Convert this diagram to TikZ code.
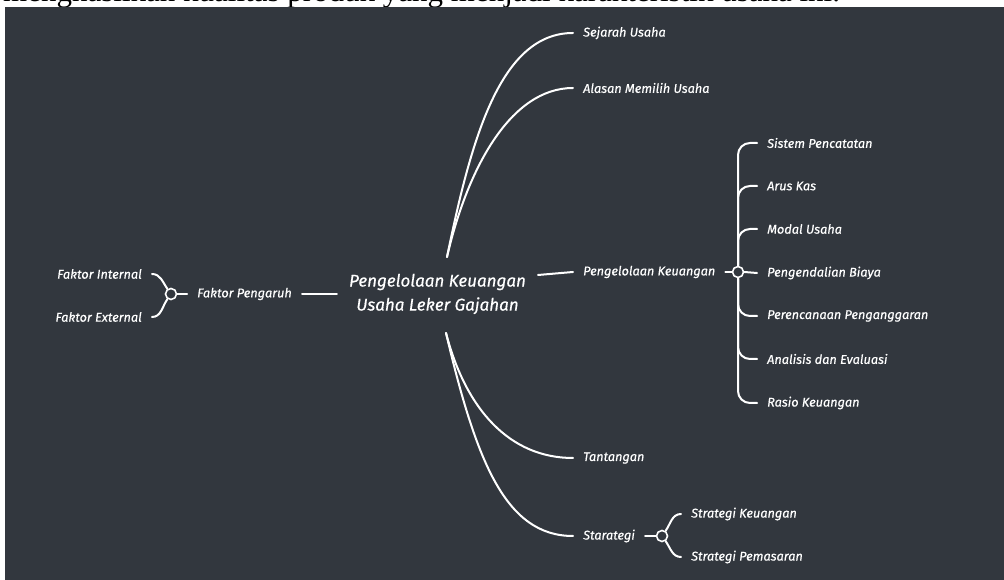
\documentclass[tikz,border=0pt]{standalone}
\usepackage{fontspec}
\setmainfont{Fira Sans}
\newfontfamily\mapfont{Fira Sans}[FakeBold=0.5]
\newfontfamily\pagefont{Liberation Serif}
\usetikzlibrary{calc}
\definecolor{board}{RGB}{50,55,62}
\tikzset{%
  central/.style = {font=\mapfont\fontsize{17}{24}\selectfont\itshape, align=center,%
                    text=white, minimum width=201pt, inner sep=0pt},%
  topic/.style   = {font=\mapfont\fontsize{12.7}{14}\selectfont\itshape, text=white,%
                    inner xsep=10pt, inner ysep=2pt},%
  hub/.style     = {circle, draw=white, line width=1.6pt, fill=board,%
                    inner sep=0pt, minimum size=11pt},%
  link/.style    = {draw=white, line width=2pt, line cap=round}%
}
\begin{document}
\begin{tikzpicture}[x=1pt,y=1pt]%
	\useasboundingbox (0,0) rectangle (1004,580);
	\fill[white] (0,0) rectangle (1004,580);
	\fill[board] (5,0) rectangle (1004,573);
	\begin{scope}
		\clip (0,573) rectangle (1004,580);
		\node[anchor=base west, inner sep=0pt, font=\pagefont\fontsize{31}{34}\selectfont] (pageline)
			at (3,578) {menghasilkan kualitas produk yang menjadi karakteristik usaha ini.};
	\end{scope}
	% central topic
	\node[central] (root) at (437.5,286) {Pengelolaan Keuangan\\Usaha Leker Gajahan};
	\coordinate (rtop) at (447,323);
	\coordinate (rbot) at (446,247);
	\coordinate (rright) at (538,305);
	% main topics
	\node[topic, anchor=west] (sejarah) at (573,547) {Sejarah Usaha};
	\node[topic, anchor=west] (alasan) at (573,492) {Alasan Memilih Usaha};
	\node[topic, anchor=west] (keuangan) at (573,308) {Pengelolaan Keuangan};
	\node[topic, anchor=west] (tantangan) at (573,122) {Tantangan};
	\node[topic, anchor=west] (strategi) at (573,44) {Starategi};
	\node[topic, anchor=east] (pengaruh) at (302,286) {Faktor Pengaruh};
	% left side
	\node[hub] (hubl) at (171,286) {};
	\node[topic, anchor=east] (internal) at (152,306) {Faktor Internal};
	\node[topic, anchor=east] (external) at (152,263) {Faktor External};
	% keuangan children
	\node[hub] (hubk) at (738,308) {};
	\node[topic, anchor=west] (sistem) at (757,437) {Sistem Pencatatan};
	\node[topic, anchor=west] (arus) at (757,394) {Arus Kas};
	\node[topic, anchor=west] (modal) at (757,351) {Modal Usaha};
	\node[topic, anchor=west] (biaya) at (757,307) {Pengendalian Biaya};
	\node[topic, anchor=west] (rencana) at (757,264) {Perencanaan Penganggaran};
	\node[topic, anchor=west] (analisis) at (757,221) {Analisis dan Evaluasi};
	\node[topic, anchor=west] (rasio) at (757,177) {Rasio Keuangan};
	% strategi children
	\node[hub] (hubs) at (662,44) {};
	\node[topic, anchor=west] (skeu) at (681,66) {Strategi Keuangan};
	\node[topic, anchor=west] (spem) at (681,23) {Strategi Pemasaran};
	% links from the centre
	\draw[link] (rtop) .. controls +(24,117) and +(-73,0) .. (sejarah.west);
	\draw[link] (rtop) .. controls +(20,87) and +(-63,0) .. (alasan.west);
	\draw[link] (rright) -- (keuangan.west);
	\draw[link] (rbot) .. controls +(20,-77) and +(-63,0) .. (tantangan.west);
	\draw[link] (rbot) .. controls +(30,-127) and +(-68,0) .. (strategi.west);
	\draw[link] (root.west) -- (pengaruh.east);
	% links to sub topics
	\draw[link] (pengaruh.west) -- (hubl.east);
	\draw[link] (hubl.125) to[out=125,in=0] (internal.east);
	\draw[link] (hubl.235) to[out=235,in=0] (external.east);
	\draw[link] (keuangan.east) -- (hubk.west);
	\draw[link] (hubk.east) -- (biaya.west);
	\foreach \n in {sistem,arus,modal}
		\draw[link, rounded corners=12pt] (hubk.north) |- (\n.west);
	\foreach \n in {rencana,analisis,rasio}
		\draw[link, rounded corners=12pt] (hubk.south) |- (\n.west);
	\draw[link] (strategi.east) -- (hubs.west);
	\draw[link] (hubs.55) to[out=55,in=180] (skeu.west);
	\draw[link] (hubs.305) to[out=305,in=180] (spem.west);
\end{tikzpicture}
\end{document}
